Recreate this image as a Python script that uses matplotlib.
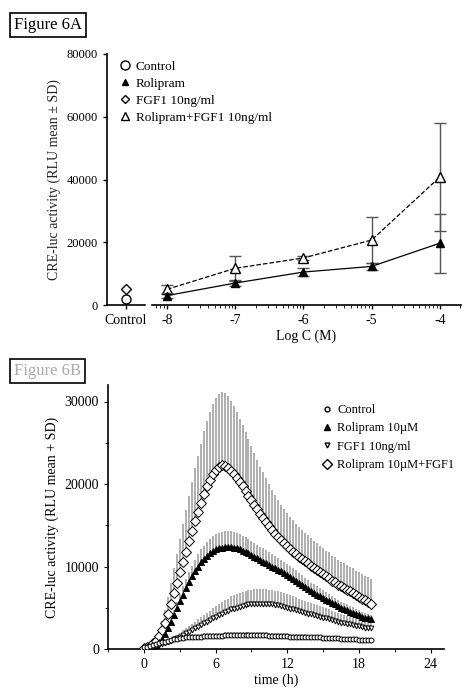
import numpy as np
import matplotlib
matplotlib.use("Agg")
import matplotlib.pyplot as plt

plt.rcParams["font.family"] = ["Liberation Serif", "DejaVu Serif"]
plt.rcParams["font.size"] = 9

# ── Panel A data ─────────────────────────────────────────────
logc = [-8, -7, -6, -5, -4]
roli_mean = [3000, 7000, 10500, 12300, 19700]
roli_sd = [900, 1000, 1300, 1200, 9400]
combo_mean = [5000, 11700, 15000, 20700, 40800]
combo_sd = [1500, 4000, 500, 7300, 17200]
control_val = 1800
fgf1_val = 5000

# ── Panel B data (thousand RLU, every 0.25 h) ────────────────
combo_t = [0.1, 0.2, 0.4, 0.7, 1.0, 1.6, 2.3, 3.2, 4.3, 5.5, 6.8, 8.0, 9.3, 10.6, 11.8, 13.1,
           14.3, 15.5, 16.6, 17.7, 18.8, 19.7, 20.5, 21.2, 21.7, 22.1, 22.3, 22.2, 22.0, 21.6,
           21.2, 20.7, 20.2, 19.7, 19.2, 18.6, 18.1, 17.5, 17.0, 16.4, 15.9, 15.4, 14.9, 14.4,
           14.0, 13.6, 13.2, 12.8, 12.5, 12.1, 11.8, 11.5, 11.2, 10.9, 10.7, 10.4, 10.1, 9.8,
           9.6, 9.3, 9.1, 8.8, 8.6, 8.3, 8.1, 7.8, 7.6, 7.4, 7.2, 7.0, 6.8, 6.5, 6.3, 6.1,
           5.9, 5.7, 5.5]
combo_t_sd = [0.1, 0.1, 0.2, 0.3, 0.5, 0.8, 1.1, 1.5, 2.0, 2.5, 3.0, 3.5, 4.0, 4.5, 5.0, 5.5,
              6.0, 6.4, 6.8, 7.2, 7.6, 7.9, 8.2, 8.5, 8.7, 8.8, 8.9, 8.8, 8.7, 8.5, 8.3, 8.0,
              7.7, 7.4, 7.1, 6.8, 6.5, 6.2, 5.9, 5.7, 5.5, 5.3, 5.1, 4.9, 4.7, 4.5, 4.3, 4.2,
              4.0, 3.9, 3.8, 3.7, 3.6, 3.5, 3.4, 3.4, 3.3, 3.3, 3.2, 3.2, 3.1, 3.1, 3.1, 3.0,
              3.0, 3.0, 3.0, 3.0, 3.0, 3.0, 3.0, 3.0, 3.0, 3.0, 3.0, 3.0, 3.0]
roli_t = [0.0, 0.1, 0.2, 0.3, 0.5, 0.8, 1.2, 1.8, 2.5, 3.3, 4.1, 5.0, 5.8, 6.6, 7.4, 8.1,
          8.8, 9.4, 10.0, 10.5, 10.9, 11.3, 11.6, 11.9, 12.1, 12.2, 12.3, 12.4, 12.4, 12.4,
          12.3, 12.2, 12.1, 11.9, 11.8, 11.6, 11.4, 11.2, 11.0, 10.8, 10.6, 10.4, 10.2, 10.0,
          9.8, 9.6, 9.4, 9.2, 9.0, 8.7, 8.5, 8.3, 8.0, 7.8, 7.5, 7.3, 7.0, 6.8, 6.6, 6.4,
          6.2, 6.0, 5.8, 5.6, 5.4, 5.2, 5.0, 4.9, 4.7, 4.5, 4.4, 4.2, 4.1, 3.9, 3.8, 3.7, 3.6]
fgf1_t = [0.0, 0.1, 0.2, 0.3, 0.4, 0.5, 0.6, 0.7, 0.9, 1.0, 1.2, 1.3, 1.5, 1.7, 1.9, 2.1,
          2.3, 2.5, 2.7, 2.9, 3.1, 3.3, 3.5, 3.7, 3.9, 4.1, 4.3, 4.5, 4.6, 4.8, 4.9, 5.0,
          5.1, 5.2, 5.3, 5.4, 5.4, 5.5, 5.5, 5.5, 5.5, 5.5, 5.4, 5.4, 5.3, 5.3, 5.2, 5.1,
          5.0, 4.9, 4.8, 4.7, 4.6, 4.5, 4.4, 4.3, 4.2, 4.1, 4.0, 3.9, 3.8, 3.7, 3.6, 3.5,
          3.4, 3.3, 3.2, 3.1, 3.0, 3.0, 2.9, 2.8, 2.8, 2.7, 2.6, 2.6, 2.5]
ctrl_t = [0.2, 0.3, 0.4, 0.5, 0.6, 0.7, 0.8, 0.9, 1.0, 1.1, 1.2, 1.2, 1.3, 1.3, 1.4, 1.4,
          1.5, 1.5, 1.5, 1.5, 1.6, 1.6, 1.6, 1.6, 1.6, 1.6, 1.6, 1.7, 1.7, 1.7, 1.7, 1.7,
          1.7, 1.7, 1.7, 1.7, 1.7, 1.7, 1.7, 1.7, 1.7, 1.7, 1.6, 1.6, 1.6, 1.6, 1.6, 1.6,
          1.6, 1.5, 1.5, 1.5, 1.5, 1.5, 1.5, 1.4, 1.4, 1.4, 1.4, 1.4, 1.3, 1.3, 1.3, 1.3,
          1.3, 1.3, 1.2, 1.2, 1.2, 1.2, 1.2, 1.2, 1.1, 1.1, 1.1, 1.1, 1.1]

n = min(map(len, [combo_t, combo_t_sd, roli_t, fgf1_t, ctrl_t]))
hours = np.arange(n) * 0.25
k = lambda a: np.array(a[:n]) * 1000

fig = plt.figure(figsize=(4.74, 6.91), dpi=100)
W, H = 474, 691
def rect(x0, y0, x1, y1):
    return [x0 / W, 1 - y1 / H, (x1 - x0) / W, (y1 - y0) / H]

boxkw = dict(boxstyle="square,pad=0.25", facecolor="white", edgecolor="black", linewidth=1.2)
fig.text(14 / W, 1 - 25 / H, "Figure 6A", fontsize=12, va="center", bbox=boxkw)
fig.text(14 / W, 1 - 371 / H, "Figure 6B", fontsize=12, va="center", color="#aaaaaa", bbox=boxkw)

# ── Panel A ──────────────────────────────────────────────────
axc = fig.add_axes(rect(107, 54, 145, 305))
axm = fig.add_axes(rect(152, 54, 461, 305))
for ax in (axc, axm):
    ax.set_ylim(0, 80000)
    ax.spines[["top", "right"]].set_visible(False)
    ax.tick_params(direction="out", length=3, width=1)
    ax.spines["bottom"].set_linewidth(1.2)
axc.spines["left"].set_linewidth(1.2)
axc.set_xlim(-0.9, 0.9)
axc.set_xticks([0])
axc.set_xticklabels(["Control"], fontsize=10)
axc.set_yticks([0, 20000, 40000, 60000, 80000])
axc.set_ylabel("CRE-luc activity (RLU mean ± SD)", fontsize=10, color="#222222")
axc.plot([0], [control_val], "o", mfc="white", mec="black", ms=6.5, zorder=4)
axc.plot([0], [fgf1_val], "D", mfc="white", mec="black", ms=5, zorder=4)

axm.spines["left"].set_visible(False)
axm.set_yticks([])
axm.set_xlim(-8.22, -3.69)
axm.set_xticks(logc)
axm.set_xticklabels([str(v) for v in logc], fontsize=10)
minor = [c + np.log10(m) for c in range(-9, -3) for m in range(2, 10)]
axm.set_xticks([v for v in minor if -8.22 < v < -3.69], minor=True)
axm.tick_params(which="minor", length=2)
axm.set_xlabel("Log C (M)", fontsize=10, labelpad=2)
axm.errorbar(logc, combo_mean, yerr=combo_sd, fmt="--", color="black", lw=0.9,
             ecolor="#555555", elinewidth=1, capsize=4, marker="^", mfc="white", mec="black", ms=7, zorder=3)
axm.errorbar(logc, roli_mean, yerr=roli_sd, fmt="-", color="black", lw=0.9,
             ecolor="#555555", elinewidth=1, capsize=4, marker="^", mfc="black", mec="black", ms=6, zorder=4)

hA = [plt.Line2D([], [], ls="", marker="o", mfc="white", mec="black", ms=6.5),
      plt.Line2D([], [], ls="", marker="^", mfc="black", mec="black", ms=5),
      plt.Line2D([], [], ls="", marker="D", mfc="white", mec="black", ms=4.5),
      plt.Line2D([], [], ls="", marker="^", mfc="white", mec="black", ms=6)]
axm.legend(hA, ["Control", "Rolipram", "FGF1 10ng/ml", "Rolipram+FGF1 10ng/ml"],
           loc="upper left", bbox_to_anchor=(-0.15, 1.02), frameon=False, fontsize=9.5,
           handletextpad=0.2, labelspacing=0.35, handlelength=1.2)

# ── Panel B ──────────────────────────────────────────────────
axb = fig.add_axes(rect(108, 385, 444, 649))
axb.spines[["top", "right"]].set_visible(False)
axb.spines[["left", "bottom"]].set_linewidth(1.2)
axb.set_xlim(-3.0, 25.1)
axb.set_ylim(0, 32000)
axb.set_xticks([0, 6, 12, 18, 24])
axb.set_xticks(range(-3, 25, 3), minor=True)
axb.set_yticks([0, 10000, 20000, 30000])
axb.set_yticks(range(0, 32000, 5000), minor=True)
axb.tick_params(direction="out", length=3, labelsize=10)
axb.tick_params(which="minor", length=2)
axb.set_xlabel("time (h)", fontsize=10, labelpad=2)
axb.set_ylabel("CRE-luc activity (RLU mean + SD)", fontsize=10)

series = [
    (k(combo_t), k(combo_t_sd), "D", "white", 5.5, "Rolipram 10µM+FGF1"),
    (k(roli_t), k(roli_t) * 0.15, "^", "black", 4.5, "Rolipram 10µM"),
    (k(fgf1_t), k(fgf1_t) * 0.33, "v", "white", 3.5, "FGF1 10ng/ml"),
    (k(ctrl_t), k(ctrl_t) * 0.2, "o", "white", 3.5, "Control"),
]
for mean, sd, *_ in series:
    axb.vlines(hours, mean, mean + sd, color="#999999", lw=1.1, zorder=1)
for z, (mean, sd, m, fc, ms, lab) in enumerate(series):
    axb.plot(hours, mean, ls="", marker=m, mfc=fc, mec="black", mew=0.7, ms=ms, zorder=3 + z)

order = [3, 1, 2, 0]
hB = [plt.Line2D([], [], ls="", marker=series[i][2], mfc=series[i][3], mec="black",
                 ms=series[i][4]) for i in order]
axb.legend(hB, [series[i][5] for i in order], loc="upper left", bbox_to_anchor=(0.6, 0.97),
           frameon=False, fontsize=9, handletextpad=0.3, labelspacing=0.5, handlelength=1.0)

fig.savefig("out.png", dpi=100)
